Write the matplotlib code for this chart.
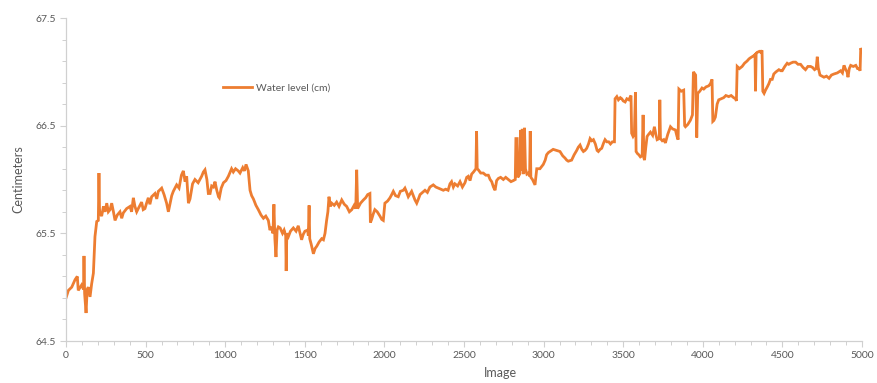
import numpy as np
import matplotlib
matplotlib.use("Agg")
import matplotlib.pyplot as plt
from matplotlib.ticker import MultipleLocator, FixedLocator, FormatStrFormatter

# Water level readings (cm) against image number
image_idx = [
    0, 15, 36, 57, 71, 77, 98, 110, 113, 117, 126, 133, 140, 151, 161, 172, 182, 193, 203, 207,
    211, 214, 224, 235, 245, 256, 266, 277, 287, 298, 308, 322, 339, 350, 360, 381, 402, 412, 423, 433,
    444, 454, 475, 485, 496, 506, 517, 527, 538, 559, 570, 580, 601, 616, 632, 643, 653, 664, 674, 695,
    710, 725, 737, 748, 758, 769, 779, 795, 810, 830, 852, 863, 873, 885, 894, 905, 915, 926, 936, 947,
    958, 963, 975, 989, 1005, 1020, 1040, 1051, 1065, 1082, 1093, 1110, 1120, 1131, 1145, 1156, 1166, 1177, 1193, 1208,
    1225, 1240, 1255, 1271, 1281, 1292, 1300, 1306, 1312, 1319, 1326, 1334, 1345, 1360, 1370, 1380, 1383, 1387, 1397, 1410,
    1428, 1445, 1459, 1470, 1480, 1490, 1501, 1518, 1522, 1527, 1531, 1540, 1554, 1565, 1575, 1590, 1606, 1617, 1627, 1637,
    1645, 1652, 1660, 1669, 1685, 1700, 1715, 1732, 1748, 1763, 1780, 1795, 1810, 1820, 1826, 1832, 1850, 1868, 1882, 1895,
    1909, 1912, 1920, 1930, 1940, 1955, 1972, 1983, 1993, 2003, 2020, 2035, 2046, 2056, 2070, 2087, 2100, 2119, 2129, 2140,
    2150, 2171, 2192, 2203, 2214, 2224, 2240, 2255, 2270, 2286, 2307, 2323, 2339, 2355, 2370, 2385, 2400, 2412, 2422, 2433,
    2443, 2460, 2475, 2490, 2506, 2517, 2527, 2538, 2548, 2560, 2570, 2575, 2579, 2583, 2590, 2605, 2621, 2637, 2653, 2664,
    2674, 2685, 2695, 2705, 2716, 2730, 2747, 2762, 2779, 2795, 2810, 2822, 2826, 2834, 2838, 2850, 2856, 2860, 2866, 2872,
    2880, 2886, 2895, 2905, 2912, 2916, 2920, 2930, 2946, 2957, 2977, 2998, 3010, 3019, 3030, 3040, 3060, 3082, 3103, 3120,
    3134, 3145, 3155, 3176, 3192, 3208, 3218, 3229, 3240, 3250, 3260, 3271, 3282, 3292, 3303, 3313, 3325, 3336, 3344, 3355,
    3365, 3377, 3386, 3397, 3409, 3420, 3432, 3445, 3449, 3460, 3470, 3482, 3491, 3500, 3512, 3523, 3535, 3549, 3553, 3562,
    3570, 3577, 3581, 3590, 3598, 3608, 3619, 3625, 3630, 3634, 3642, 3650, 3660, 3671, 3685, 3696, 3705, 3713, 3727, 3730,
    3734, 3745, 3755, 3765, 3780, 3797, 3810, 3828, 3838, 3845, 3850, 3865, 3880, 3886, 3891, 3905, 3922, 3935, 3941, 3950,
    3955, 3962, 3968, 3981, 3995, 4006, 4020, 4037, 4048, 4058, 4063, 4070, 4079, 4090, 4100, 4115, 4131, 4145, 4163, 4178,
    4194, 4205, 4211, 4216, 4230, 4247, 4262, 4278, 4290, 4299, 4310, 4320, 4328, 4331, 4335, 4341, 4355, 4365, 4372, 4377,
    4385, 4394, 4405, 4415, 4425, 4436, 4446, 4460, 4478, 4490, 4499, 4515, 4530, 4540, 4551, 4567, 4583, 4598, 4614, 4630,
    4645, 4660, 4677, 4690, 4702, 4712, 4719, 4725, 4736, 4748, 4761, 4777, 4793, 4808, 4824, 4845, 4866, 4877, 4887, 4898,
    4906, 4912, 4920, 4929, 4945, 4961, 4972, 4982, 4988, 4992, 4998, 5000,
]

water_level = [
    64.90, 64.97, 65.00, 65.07, 65.10, 64.97, 65.02, 64.98, 65.29, 64.94, 64.76, 64.98, 65.00, 64.91, 65.03, 65.13, 65.47, 65.61, 65.62, 66.06,
    65.68, 65.69, 65.66, 65.75, 65.70, 65.78, 65.70, 65.72, 65.78, 65.70, 65.62, 65.67, 65.70, 65.64, 65.69, 65.73, 65.75, 65.70, 65.83, 65.75,
    65.70, 65.73, 65.79, 65.72, 65.73, 65.78, 65.83, 65.77, 65.84, 65.87, 65.82, 65.89, 65.92, 65.86, 65.78, 65.70, 65.77, 65.85, 65.89, 65.95,
    65.92, 66.04, 66.08, 65.98, 66.03, 65.78, 65.82, 65.96, 66.00, 65.97, 66.03, 66.07, 66.09, 66.00, 65.87, 65.87, 65.94, 65.93, 65.98, 65.90,
    65.84, 65.83, 65.92, 65.97, 65.99, 66.03, 66.10, 66.07, 66.10, 66.08, 66.06, 66.11, 66.08, 66.14, 66.08, 65.90, 65.85, 65.82, 65.76, 65.72,
    65.67, 65.64, 65.66, 65.62, 65.53, 65.56, 65.50, 65.77, 65.45, 65.28, 65.53, 65.56, 65.55, 65.50, 65.53, 65.48, 65.15, 65.50, 65.47, 65.52,
    65.55, 65.52, 65.57, 65.50, 65.44, 65.49, 65.52, 65.53, 65.48, 65.76, 65.45, 65.40, 65.31, 65.36, 65.38, 65.42, 65.45, 65.44, 65.50, 65.62,
    65.70, 65.84, 65.75, 65.78, 65.76, 65.79, 65.75, 65.81, 65.77, 65.75, 65.70, 65.72, 65.76, 65.73, 66.09, 65.73, 65.78, 65.81, 65.83, 65.86,
    65.87, 65.60, 65.63, 65.68, 65.72, 65.70, 65.66, 65.63, 65.62, 65.78, 65.80, 65.83, 65.86, 65.89, 65.85, 65.84, 65.89, 65.90, 65.92, 65.88,
    65.84, 65.89, 65.81, 65.78, 65.82, 65.86, 65.88, 65.90, 65.88, 65.93, 65.95, 65.93, 65.92, 65.91, 65.90, 65.91, 65.90, 65.96, 65.98, 65.93,
    65.96, 65.94, 65.98, 65.93, 65.97, 66.02, 66.03, 65.99, 66.05, 66.07, 66.09, 66.10, 66.45, 66.10, 66.09, 66.06, 66.06, 66.04, 66.04, 66.00,
    65.98, 65.93, 65.90, 65.99, 66.01, 66.02, 66.00, 66.02, 66.00, 65.98, 65.99, 66.00, 66.38, 66.38, 66.02, 66.05, 66.46, 66.08, 66.47, 66.05,
    66.48, 66.10, 66.05, 66.06, 66.03, 66.45, 66.02, 66.00, 65.95, 66.10, 66.10, 66.14, 66.18, 66.23, 66.25, 66.26, 66.28, 66.27, 66.26, 66.22,
    66.20, 66.18, 66.17, 66.18, 66.23, 66.27, 66.30, 66.32, 66.28, 66.26, 66.27, 66.29, 66.33, 66.38, 66.36, 66.37, 66.33, 66.27, 66.26, 66.28,
    66.29, 66.34, 66.37, 66.35, 66.35, 66.33, 66.35, 66.35, 66.75, 66.77, 66.74, 66.76, 66.75, 66.73, 66.72, 66.75, 66.74, 66.78, 66.43, 66.40,
    66.42, 66.81, 66.26, 66.24, 66.23, 66.21, 66.22, 66.60, 66.20, 66.18, 66.30, 66.40, 66.42, 66.44, 66.41, 66.49, 66.42, 66.37, 66.38, 66.74,
    66.38, 66.36, 66.37, 66.34, 66.42, 66.49, 66.47, 66.46, 66.40, 66.37, 66.84, 66.82, 66.83, 66.50, 66.49, 66.51, 66.55, 66.60, 67.00, 66.98,
    66.97, 66.39, 66.80, 66.82, 66.85, 66.84, 66.86, 66.87, 66.89, 66.93, 66.54, 66.55, 66.58, 66.70, 66.74, 66.75, 66.76, 66.78, 66.77, 66.78,
    66.76, 66.75, 66.73, 67.05, 67.03, 67.05, 67.08, 67.10, 67.12, 67.13, 67.14, 67.15, 67.16, 66.82, 67.17, 67.18, 67.19, 67.18, 67.20, 66.82,
    66.80, 66.83, 66.86, 66.89, 66.93, 66.93, 66.98, 67.00, 67.02, 67.01, 67.01, 67.05, 67.08, 67.07, 67.08, 67.09, 67.09, 67.07, 67.07, 67.04,
    67.02, 67.05, 67.05, 67.04, 67.02, 67.03, 67.14, 67.04, 66.97, 66.96, 66.95, 66.96, 66.94, 66.97, 66.98, 66.99, 67.01, 66.99, 67.06, 67.02,
    67.00, 66.95, 67.03, 67.06, 67.05, 67.06, 67.03, 67.03, 67.01, 67.22, 67.20, 67.19,
]

x_ticks = [0, 500, 1000, 1500, 2000, 2500, 3000, 3500, 4000, 4500, 5000]
y_ticks = [64.5, 65.5, 66.5, 67.5]

series_label = "Water level (cm)"
x_title = "Image"
y_title = "Centimeters"

LINE_COLOR = "#ED7D31"
TEXT_COLOR = "#595959"
AXIS_COLOR = "#D0D0D0"

plt.rcParams["font.family"] = ["Lato", "DejaVu Sans"]

fig = plt.figure(figsize=(8.77, 3.83), dpi=100)
ax = fig.add_axes([66 / 877, 1 - 341 / 383, (862 - 66) / 877, (341 - 18) / 383])

ax.plot(image_idx, water_level, color=LINE_COLOR, lw=2.0, solid_joinstyle="miter",
        label=series_label)

ax.set_xlim(x_ticks[0], x_ticks[-1])
ax.set_ylim(y_ticks[0], y_ticks[-1])
ax.set_xticks(x_ticks)
ax.set_yticks(y_ticks)
ax.xaxis.set_minor_locator(MultipleLocator(100))
ax.yaxis.set_minor_locator(FixedLocator(np.arange(y_ticks[0], y_ticks[-1] + 0.01, 0.2)))
ax.yaxis.set_major_formatter(FormatStrFormatter("%.1f"))

for side in ("top", "right"):
    ax.spines[side].set_visible(False)
for side in ("left", "bottom"):
    ax.spines[side].set_color(AXIS_COLOR)
    ax.spines[side].set_linewidth(0.9)

ax.tick_params(which="major", direction="out", length=4, width=0.8, color=AXIS_COLOR,
               labelsize=7.5, labelcolor=TEXT_COLOR, pad=3)
ax.tick_params(which="minor", direction="out", length=3, width=0.7, color=AXIS_COLOR)

ax.set_xlabel(x_title, fontsize=9, color=TEXT_COLOR)
ax.xaxis.set_label_coords((500 - 66) / 796, -0.082)
ax.set_ylabel(y_title, fontsize=9, color=TEXT_COLOR, labelpad=8)

leg = ax.legend(loc="center left", bbox_to_anchor=((223 - 66) / 796, (341 - 88) / 323),
                frameon=False, borderpad=0, borderaxespad=0, handlelength=2.8,
                handletextpad=0.35, fontsize=7.5)
for t in leg.get_texts():
    t.set_color(TEXT_COLOR)

fig.savefig("out.png", dpi=100, facecolor="white")
